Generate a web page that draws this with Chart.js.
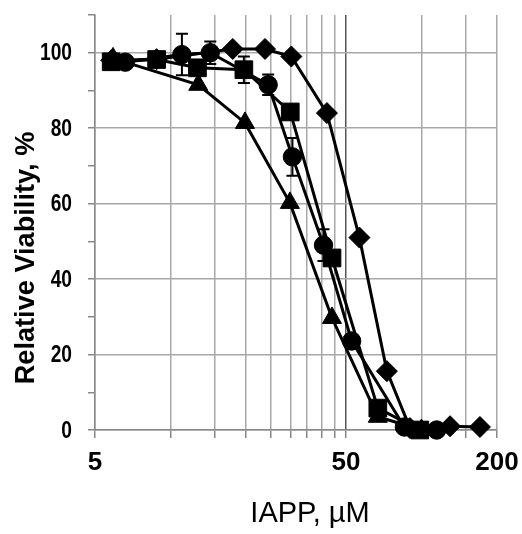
<!DOCTYPE html>
<html>
<head>
<meta charset="utf-8">
<script src="https://cdn.jsdelivr.net/npm/chart.js@4"></script>
<style>
  body { margin: 0; background: #fff; }
  canvas { display: block; }
</style>
</head>
<body>
<canvas id="viabilityChart" width="522" height="534"></canvas>
<script>
// tick values and labels
const xTickValues = [5, 10, 15, 20, 25, 30, 35, 40, 45, 50, 100, 150, 200];
const xTickLabels = [5, 50, 200];
const yTickLabels = [0, 20, 40, 60, 80, 100];
const xTitle = 'IAPP, \u00B5M';
const yTitle = 'Relative Viability, %';

// series
const circleX = [6.6, 11.1, 14.4, 24.5, 30.6, 40.7, 52.7, 85.5, 115];
const circleY = [97.5, 99.5, 100, 91.5, 72.4, 49, 23.6, 0.8, 0];
const circleErr = [0, 5.5, 3, 2.7, 5, 4.2, 0, 0, 0];

const squareX = [5.8, 8.8, 12.8, 19.6, 30, 44, 67, 98.5];
const squareY = [97.6, 98.2, 96, 95.5, 84.3, 45.6, 5.8, 0];
const squareErr = [0, 0, 0, 3.5, 0, 0, 0, 0];

const triangleX = [5.9, 12.9, 19.8, 29.9, 44, 67, 100];
const triangleY = [98.5, 91.5, 81.4, 60.2, 29.7, 3.5, 0];

const diamondX = [5.8, 8.8, 17.7, 23.8, 30.3, 42, 56.6, 72.8, 90, 130, 171];
const diamondY = [98, 98.3, 101, 101, 99, 84, 51, 15.6, 0.5, 1, 0.8];

const fontFamily = "'Liberation Sans', Arial, sans-serif";
const gridColor = '#a8a8a8';

function toPoints(xs, ys) {
    return xs.map((x, i) => ({ x: x, y: ys[i] }));
}

function makeSeries(xs, ys, style, radius, errs) {
    return {
        data: toPoints(xs, ys),
        errs: errs || [],
        borderColor: '#000',
        backgroundColor: '#000',
        borderWidth: 3,
        pointStyle: style,
        pointRadius: radius,
        pointHoverRadius: radius,
        pointBackgroundColor: '#000',
        pointBorderColor: '#000',
        pointBorderWidth: 1,
        tension: 0,
        clip: false
    };
}

// error bars
const errorBars = {
    id: 'errorBars',
    afterDatasetsDraw(chart) {
        const ctx = chart.ctx;
        const xs = chart.scales.x;
        const ys = chart.scales.y;
        ctx.save();
        ctx.strokeStyle = '#000';
        ctx.lineWidth = 2;
        chart.data.datasets.forEach(ds => {
            ds.errs.forEach((e, i) => {
                if (!e) return;
                const p = ds.data[i];
                const px = xs.getPixelForValue(p.x);
                const top = ys.getPixelForValue(p.y + e);
                const bot = ys.getPixelForValue(p.y - e);
                ctx.beginPath();
                ctx.moveTo(px, top); ctx.lineTo(px, bot);
                ctx.moveTo(px - 6, top); ctx.lineTo(px + 6, top);
                ctx.moveTo(px - 6, bot); ctx.lineTo(px + 6, bot);
                ctx.stroke();
            });
        });
        ctx.restore();
    }
};

// y tick labels and axis titles, narrow like the original
const axisText = {
    id: 'axisText',
    afterDraw(chart) {
        const ctx = chart.ctx;
        const ys = chart.scales.y;

        ctx.save();
        ctx.fillStyle = '#000';
        ctx.textAlign = 'right';
        ctx.textBaseline = 'middle';
        ctx.font = 'bold 24px ' + fontFamily;
        yTickLabels.forEach(v => {
            const py = ys.getPixelForValue(v);
            ctx.save();
            ctx.translate(72, py + 1);
            ctx.scale(0.8, 1);
            ctx.fillText(String(v), 0, 0);
            ctx.restore();
        });
        ctx.restore();

        ctx.save();
        ctx.fillStyle = '#000';
        ctx.textAlign = 'center';
        ctx.textBaseline = 'middle';
        ctx.font = 'bold 28px ' + fontFamily;
        ctx.translate(26, 258);
        ctx.rotate(-Math.PI / 2);
        ctx.scale(0.97, 1);
        ctx.fillText(yTitle, 0, 0);
        ctx.restore();

        ctx.save();
        ctx.fillStyle = '#000';
        ctx.textAlign = 'center';
        ctx.textBaseline = 'middle';
        ctx.font = '29px ' + fontFamily;
        ctx.fillText(xTitle, 310, 514);
        ctx.restore();
    }
};

const chart = new Chart(document.getElementById('viabilityChart'), {
    type: 'line',
    data: {
        datasets: [
            makeSeries(triangleX, triangleY, 'triangle', 11),
            makeSeries(squareX, squareY, 'rect', 12.5, squareErr),
            makeSeries(circleX, circleY, 'circle', 9.2, circleErr),
            makeSeries(diamondX, diamondY, 'rectRot', 10.5)
        ]
    },
    options: {
        responsive: false,
        devicePixelRatio: 1,
        animation: false,
        layout: { padding: { top: 15, right: 25, bottom: 0, left: 0 } },
        plugins: {
            legend: { display: false },
            tooltip: { enabled: false }
        },
        scales: {
            x: {
                type: 'logarithmic',
                min: 5,
                max: 200,
                afterBuildTicks: axis => {
                    axis.ticks = xTickValues.map(v => ({ value: v }));
                },
                afterFit: axis => {
                    axis.height = 104;
                    axis.paddingLeft = 0;
                    axis.paddingRight = 0;
                },
                border: { color: '#888', width: 1.5 },
                grid: {
                    color: c => (c.tick && c.tick.value === 50) ? '#555' : gridColor,
                    lineWidth: 1.5,
                    tickLength: 8,
                    tickColor: '#888'
                },
                ticks: {
                    autoSkip: false,
                    maxRotation: 0,
                    padding: 9,
                    color: '#000',
                    font: { family: fontFamily, size: 26, weight: 'bold' },
                    callback: v => xTickLabels.includes(v) ? String(v) : ''
                }
            },
            y: {
                type: 'linear',
                min: 0,
                max: 110,
                afterFit: axis => {
                    axis.width = 95;
                    axis.paddingTop = 0;
                    axis.paddingBottom = 0;
                },
                border: { color: '#888', width: 1.5 },
                grid: {
                    color: c => (c.tick && c.tick.value % 20 === 0 && c.tick.value <= 100) ? gridColor : 'rgba(0,0,0,0)',
                    lineWidth: 1.5,
                    tickLength: 7,
                    tickColor: '#888'
                },
                ticks: {
                    stepSize: 10,
                    padding: 16,
                    callback: () => ''
                }
            }
        }
    },
    plugins: [errorBars, axisText]
});
</script>
</body>
</html>
